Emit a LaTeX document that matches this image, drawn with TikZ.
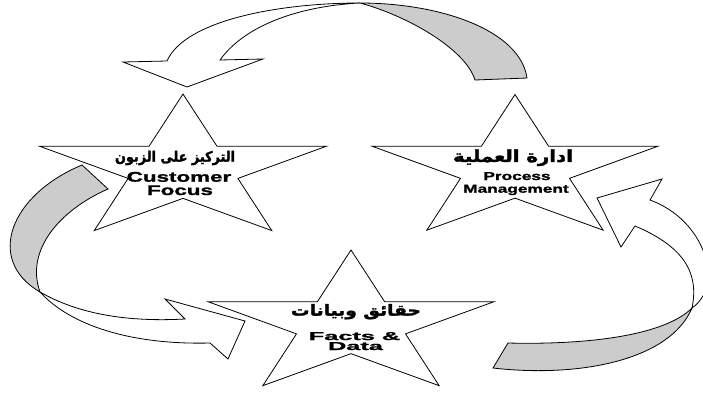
\documentclass[tikz,border=0pt]{standalone}
\usepackage{fontspec}
\usepackage{graphicx}
\setmainfont{Liberation Sans}
\newfontfamily\engfont{Liberation Sans Bold}[FakeBold=1.2]
\newfontfamily\arabicfont[Script=Arabic,FakeBold=1.8]{DejaVu Sans Bold}
\TeXXeTstate=1
\tikzset{
  face/.style={draw=black, line width=0.8pt, line join=miter},
  frontface/.style={face, fill=white},
  backface/.style={face, fill=black!20},
  starsty/.style={draw=black, line width=0.8pt, fill=white, line join=miter},
  lbl/.style={inner sep=0pt, outer sep=0pt, anchor=base},
  albl/.style={inner sep=0pt, outer sep=0pt, anchor=center},
}
\newcommand\stxt[3]{\scalebox{#1}[1]{\fontsize{#2}{#2}\engfont #3}}
\newcommand\atxt[3]{\resizebox*{#1}{#2}{\arabicfont #3}}
\newcommand\drawstar[5]{%
  \coordinate (#1) at (#2,#3);
  \draw[starsty, shift={(#2,#3)}, yscale=0.5]
    (-90:#4) -- (-126:#5) -- (-162:#4) -- (-198:#5) -- (-234:#4) -- (-270:#5)
    -- (-306:#4) -- (-342:#5) -- (-378:#4) -- (-414:#5) -- cycle;
}
\begin{document}
\begin{tikzpicture}[x=1pt,y=-1pt]
\fill[white] (0,0) rectangle (703,394);
\useasboundingbox (0,0) rectangle (703,394);

% top curved arrow (Process -> Customer)
\coordinate (tx) at (360,3);
\path[backface] (tx) .. controls (440,3) and (520,30) .. (527,78) -- (475,80)
  .. controls (465,48) and (405,15) .. (tx) -- cycle;
\path[frontface] (tx) .. controls (280,3) and (185,20) .. (167,61) -- (123,62) -- (187,87)
  -- (263,59) -- (220,60) .. controls (245,25) and (300,6) .. (tx) -- cycle;

% left curved arrow (Customer -> Facts)
\coordinate (lx) at (40,292);
\path[backface] (82,165) -- (108,189) .. controls (60,210) and (25,250) .. (lx)
  .. controls (-15,260) and (10,195) .. (82,165) -- cycle;
\path[frontface] (lx) .. controls (80,315) and (130,322) .. (185,319) -- (165,299) -- (245,321)
  -- (228,359) -- (210,343) .. controls (130,345) and (70,325) .. (lx) -- cycle;

% right curved arrow (Facts -> Process)
\coordinate (rx) at (692,308);
\path[backface] (508,343) -- (493,368) .. controls (580,378) and (670,360) .. (rx)
  .. controls (665,335) and (590,345) .. (508,343) -- cycle;
\path[frontface] (rx) .. controls (700,270) and (680,245) .. (635,226) -- (621,247) -- (597,198)
  -- (662,179) -- (650,200) .. controls (705,220) and (725,285) .. (rx) -- cycle;

% stars
\drawstar{starA}{183}{169.5}{151}{57.7}
\drawstar{starB}{515}{169.5}{150}{57.3}
\drawstar{starC}{351}{325}{150}{57.3}

% labels
\node[albl] (ar1) at (175,158) {\atxt{120pt}{14.3pt}{\beginR التركيز على الزبون\endR}};
\node[lbl] (cust) at (179,181.7) {\stxt{1.6}{14pt}{Customer}};
\node[lbl] (focus) at (180,195) {\stxt{1.6}{14pt}{Focus}};

\node[albl] (ar2) at (513,157.7) {\atxt{120pt}{16.7pt}{\beginR ادارة العملية\endR}};
\node[lbl] (proc) at (517,180) {\stxt{1.5}{11.5pt}{Process}};
\node[lbl] (mgmt) at (516,192.7) {\stxt{1.5}{11.5pt}{Management}};

\node[albl] (ar3) at (356,311.7) {\atxt{130pt}{15.3pt}{\beginR حقائق وبيانات\endR}};
\node[lbl] (facts) at (354.5,340) {\stxt{2.2}{11.5pt}{Facts \&}};
\node[lbl] (data) at (355.5,350) {\stxt{2.2}{11.5pt}{Data}};
\end{tikzpicture}
\end{document}
